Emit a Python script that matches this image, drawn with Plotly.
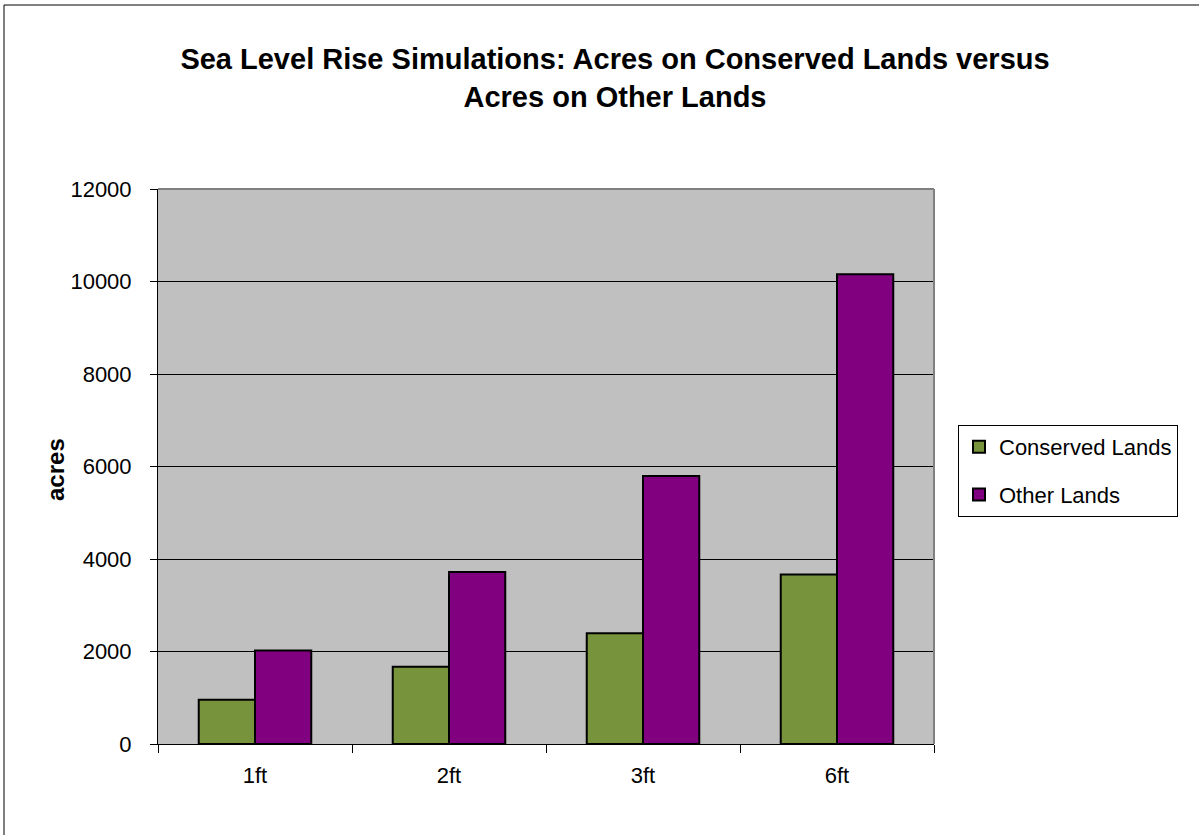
import plotly.graph_objects as go

categories = ["1ft", "2ft", "3ft", "6ft"]
conserved = [957, 1670, 2397, 3663]
other = [2022, 3721, 5795, 10158]
y_ticks = [0, 2000, 4000, 6000, 8000, 10000, 12000]

W, H = 1199, 835
L, R, T, B = 158, 265, 189, 91
pw, ph = W - L - R, H - T - B

def px(x):
    return (x - L) / pw

def py(y):
    return (H - B - y) / ph

FONT = "Arial, Liberation Sans, sans-serif"

fig = go.Figure()
fig.add_trace(go.Bar(x=categories, y=conserved, name="Conserved Lands",
                     marker=dict(color="#77933C", line=dict(color="black", width=2)),
                     legendgroup="a"))
fig.add_trace(go.Bar(x=categories, y=other, name="Other Lands",
                     marker=dict(color="#800080", line=dict(color="black", width=2)),
                     legendgroup="b"))

fig.update_layout(
    width=W, height=H,
    margin=dict(l=L, r=R, t=T, b=B),
    paper_bgcolor="white",
    plot_bgcolor="#C0C0C0",
    barmode="group", bargap=0.42, bargroupgap=0,
    font=dict(family=FONT, color="black"),
    title=dict(text="Sea Level Rise Simulations: Acres on Conserved Lands versus<br>Acres on Other Lands",
               x=615 / W, xref="container", xanchor="center",
               y=1 - 69 / H, yref="container", yanchor="middle",
               font=dict(size=29, family=FONT, color="black", weight="bold")),
    legend=dict(x=px(958), y=py(425), xanchor="left", yanchor="top",
                bgcolor="white", bordercolor="black", borderwidth=1,
                font=dict(size=22, family=FONT, color="black"),
                tracegroupgap=16, itemsizing="constant"),
    showlegend=True,
)

fig.update_yaxes(range=[0, 12000], tickvals=y_ticks, ticktext=[str(v) for v in y_ticks],
                 showgrid=True, gridcolor="black", gridwidth=1,
                 showline=True, linecolor="black", linewidth=1,
                 ticks="outside", ticklen=7, tickcolor="black",
                 ticklabelstandoff=14,
                 tickfont=dict(size=22, family=FONT, color="black"),
                 zeroline=False, fixedrange=True)
fig.update_xaxes(showline=True, linecolor="black", linewidth=1,
                 ticks="outside", ticklen=8, tickcolor="black", tickson="boundaries",
                 ticklabelstandoff=12,
                 tickfont=dict(size=22, family=FONT, color="black"),
                 showgrid=False)

# y axis title
fig.add_annotation(text="<b>acres</b>", x=px(56), y=py(470), xref="paper", yref="paper",
                   xanchor="center", yanchor="middle",
                   textangle=-90, showarrow=False,
                   font=dict(size=24, family=FONT, color="black"))

# grey top and right plot borders
fig.add_shape(type="line", xref="paper", yref="paper", x0=0, x1=1, y0=1, y1=1,
              line=dict(color="#808080", width=2))
fig.add_shape(type="line", xref="paper", yref="paper", x0=1, x1=1, y0=0, y1=1,
              line=dict(color="#808080", width=2))
# outer chart border
fig.add_shape(type="rect", xref="paper", yref="paper",
              x0=px(4), x1=px(W + 10), y0=py(H + 10), y1=py(5),
              line=dict(color="black", width=1), layer="below")

fig.write_html("out.html")
